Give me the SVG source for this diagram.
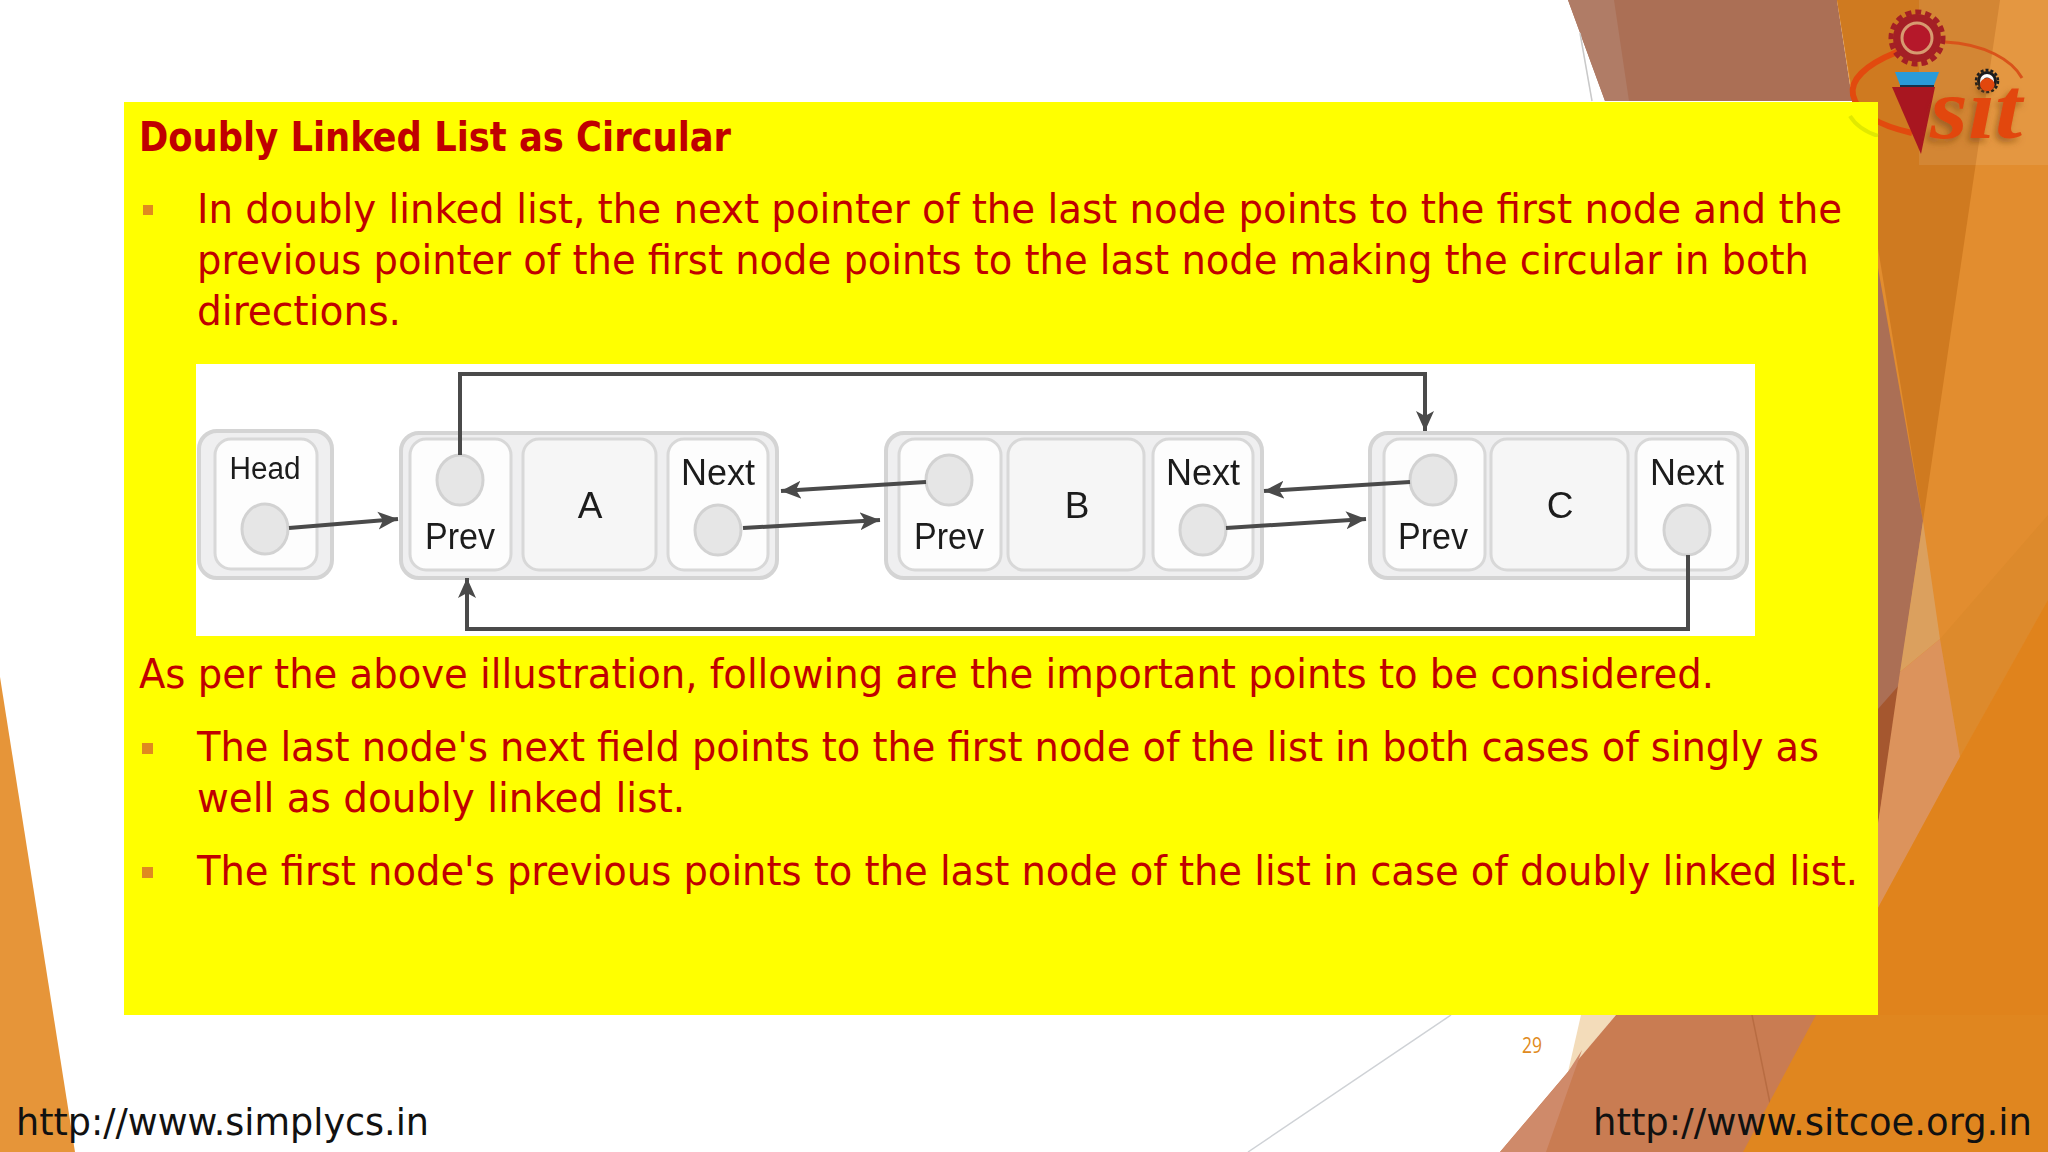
<svg xmlns="http://www.w3.org/2000/svg" width="2048" height="1152" viewBox="0 0 2048 1152">
<defs>
<marker id="ah" markerUnits="userSpaceOnUse" markerWidth="24" markerHeight="24" refX="20" refY="12" orient="auto"><path d="M0 3 L20 12 L0 21 L5 12 Z" fill="#4a4a4a"/></marker>
<filter id="soft" x="-5%" y="-5%" width="110%" height="110%"><feGaussianBlur stdDeviation="0.7"/></filter>
<filter id="sh" x="-20%" y="-20%" width="140%" height="140%"><feDropShadow dx="-3" dy="4" stdDeviation="3" flood-color="#7a4410" flood-opacity="0.55"/></filter>
</defs>
<style>
.b{font-family:"DejaVu Sans Condensed","DejaVu Sans",sans-serif;font-stretch:condensed;font-size:40px;fill:#c00000}
.u{font-family:"DejaVu Sans Condensed","DejaVu Sans",sans-serif;font-stretch:condensed;font-size:38px;fill:#111}
.o{fill:#efeff0;stroke:#d4d4d4;stroke-width:4}
.c{fill:#fdfdfd;stroke:#d8d8d8;stroke-width:3}
.d{fill:#f6f6f6;stroke:#d8d8d8;stroke-width:3}
.p{fill:#e6e6e6;stroke:#d2d2d2;stroke-width:3}
.t{font-family:"Liberation Sans",sans-serif;font-size:37px;fill:#1c1c1c;text-anchor:middle}
.k{fill:none;stroke:#4a4a4a;stroke-width:4}
.s{fill:#df8a20}
.n{filter:url(#soft)}
</style>
<rect width="2048" height="1152" fill="#fff"/>
<g id="bg">
<path d="M0 677L75 1152H0Z" fill="#e69539"/>
<path d="M1568 0H1837L1878 268V101H1605Z" fill="#ab6f55"/>
<path d="M1568 0H1614L1629 101H1605Z" fill="#b07c66"/>
<path d="M1580 33L1592 101" stroke="#c9c9c9" stroke-width="1.5" fill="none"/>
<path d="M1837 0H2048V1152H1878V268Z" fill="#e28d2f"/>
<path d="M1837 0H2000L1923 521Z" fill="#cf7a20"/>
<path d="M1878 268L1923 521L1878 824Z" fill="#ab6f55"/>
<path d="M1878 709L1900 684L1878 824Z" fill="#a5572f"/>
<path d="M1940 639L2048 515V600L1960 757Z" fill="#dd8a2c"/>
<path d="M1923 521L1940 639L1900 672Z" fill="#dba05e"/>
<path d="M1900 672L1940 639L1960 757L1878 908V824Z" fill="#dc935c"/>
<path d="M1878 908L1960 757L2048 600V1152H1878Z" fill="#e0831c"/>
<path d="M1581 1015H1616L1568 1072Z" fill="#f3dcba"/>
<path d="M1616 1015H1878V1152H1500Z" fill="#c97c52"/>
<path d="M1568 1072L1500 1152H1546L1582 1050Z" fill="#cf8a6a"/>
<path d="M1752 1015L1770 1103" stroke="#b86c42" stroke-width="1.5" fill="none"/>
<path d="M1816 1015H2048V1152H1743Z" fill="#e0861f"/>
<path d="M1451 1015L1248 1152" stroke="#cfd2d6" stroke-width="1.5" fill="none"/>
<rect x="1919" y="0" width="129" height="165" fill="#fff" opacity="0.09"/>
</g>
<g id="logo">
<path d="M1897 52C1865 65 1850 80 1853 95C1858 118 1890 128 1912 133" fill="none" stroke="#e24a0e" stroke-width="6"/>
<path d="M1945 42C1985 44 2012 60 2022 78" fill="none" stroke="#d9531a" stroke-width="3"/>
<circle cx="1917" cy="38" r="24" fill="#a41f25"/>
<circle cx="1917" cy="38" r="26" fill="none" stroke="#a41f25" stroke-width="5" stroke-dasharray="6 4"/>
<circle cx="1917" cy="38" r="15" fill="#b5182a" stroke="#d79a70" stroke-width="3"/>
<path d="M1895 72H1939L1934 85H1900Z" fill="#2a9bd8"/>
<path d="M1900 85H1934V87H1900Z" fill="#16324a"/>
<path d="M1892 87H1935L1921 154Z" fill="#a81620"/>
<circle cx="1987" cy="81" r="10" fill="#1d1d1d"/>
<circle cx="1987" cy="81" r="11" fill="none" stroke="#1d1d1d" stroke-width="2.5" stroke-dasharray="3 2"/>
<circle cx="1987" cy="81" r="7" fill="#fff"/>
<circle cx="1987" cy="81" r="3.5" fill="#1d1d1d"/>
<text x="1930" y="138" font-family="Liberation Serif,serif" font-style="italic" font-weight="bold" font-size="86" fill="#e2470f" textLength="92" lengthAdjust="spacingAndGlyphs" filter="url(#sh)">sit</text>
</g>
<rect id="panel" x="124" y="102" width="1754" height="913" fill="#ffff00"/>
<path d="M1850 116C1856 126 1866 132 1878 136" fill="none" stroke="#c4d400" stroke-width="4" opacity="0.5" filter="url(#soft)"/>
<text class="b" x="139" y="151" font-weight="700" textLength="592" lengthAdjust="spacingAndGlyphs">Doubly Linked List as Circular</text>
<rect class="s" x="143" y="205" width="10" height="10"/>
<text class="b" x="197" y="223" textLength="1645" lengthAdjust="spacingAndGlyphs">In doubly linked list, the next pointer of the last node points to the first node and the</text>
<text class="b" x="197" y="274" textLength="1612" lengthAdjust="spacingAndGlyphs">previous pointer of the first node points to the last node making the circular in both</text>
<text class="b" x="197" y="325" textLength="204" lengthAdjust="spacingAndGlyphs">directions.</text>
<rect id="figure" x="196" y="364" width="1559" height="272" fill="#fff"/>
<g id="head" class="n"><rect class="o" x="199" y="431" width="133" height="147" rx="18"/><rect class="c" x="215" y="439" width="102" height="130" rx="16"/><text class="t" x="265" y="479" style="font-size:31px" textLength="71" lengthAdjust="spacingAndGlyphs">Head</text><ellipse class="p" cx="265" cy="529" rx="23" ry="25"/></g>
<g id="node-a" class="n"><rect class="o" x="401" y="433" width="376" height="145" rx="18"/><rect class="c" x="410" y="439" width="101" height="131" rx="16"/><rect class="d" x="523" y="439" width="133" height="131" rx="16"/><rect class="c" x="668" y="439" width="100" height="131" rx="16"/><ellipse class="p" cx="460" cy="480" rx="23" ry="25"/><text class="t" x="460" y="549" textLength="70" lengthAdjust="spacingAndGlyphs">Prev</text><text class="t" x="590" y="518">A</text><text class="t" x="718" y="485" textLength="74" lengthAdjust="spacingAndGlyphs">Next</text><ellipse class="p" cx="718" cy="530" rx="23" ry="25"/></g>
<g id="node-b" class="n"><rect class="o" x="886" y="433" width="376" height="145" rx="18"/><rect class="c" x="899" y="439" width="102" height="131" rx="16"/><rect class="d" x="1008" y="439" width="136" height="131" rx="16"/><rect class="c" x="1153" y="439" width="100" height="131" rx="16"/><ellipse class="p" cx="949" cy="480" rx="23" ry="25"/><text class="t" x="949" y="549" textLength="70" lengthAdjust="spacingAndGlyphs">Prev</text><text class="t" x="1077" y="518">B</text><text class="t" x="1203" y="485" textLength="74" lengthAdjust="spacingAndGlyphs">Next</text><ellipse class="p" cx="1203" cy="530" rx="23" ry="25"/></g>
<g id="node-c" class="n"><rect class="o" x="1370" y="433" width="377" height="145" rx="18"/><rect class="c" x="1384" y="439" width="101" height="131" rx="16"/><rect class="d" x="1491" y="439" width="137" height="131" rx="16"/><rect class="c" x="1636" y="439" width="102" height="131" rx="16"/><ellipse class="p" cx="1433" cy="480" rx="23" ry="25"/><text class="t" x="1433" y="549" textLength="70" lengthAdjust="spacingAndGlyphs">Prev</text><text class="t" x="1560" y="518">C</text><text class="t" x="1687" y="485" textLength="74" lengthAdjust="spacingAndGlyphs">Next</text><ellipse class="p" cx="1687" cy="530" rx="23" ry="25"/></g>
<g id="connectors">
<path class="k" d="M289 528L398 519" marker-end="url(#ah)"/>
<path class="k" d="M743 528L880 520" marker-end="url(#ah)"/>
<path class="k" d="M926 482L781 491" marker-end="url(#ah)"/>
<path class="k" d="M1226 528L1366 519" marker-end="url(#ah)"/>
<path class="k" d="M1410 482L1264 491" marker-end="url(#ah)"/>
<path class="k" d="M460 455V374H1425V431" marker-end="url(#ah)"/>
<path class="k" d="M1688 555V629H467V578" marker-end="url(#ah)"/>
</g>
<text class="b" x="139" y="688" textLength="1575" lengthAdjust="spacingAndGlyphs">As per the above illustration, following are the important points to be considered.</text>
<rect class="s" x="142" y="743" width="11" height="11"/>
<text class="b" x="197" y="761" textLength="1622" lengthAdjust="spacingAndGlyphs">The last node's next field points to the first node of the list in both cases of singly as</text>
<text class="b" x="197" y="812" textLength="488" lengthAdjust="spacingAndGlyphs">well as doubly linked list.</text>
<rect class="s" x="142" y="867" width="11" height="11"/>
<text class="b" x="197" y="885" textLength="1661" lengthAdjust="spacingAndGlyphs">The first node's previous points to the last node of the list in case of doubly linked list.</text>
<text x="1522" y="1053" font-family="Open Sans,sans-serif" font-size="22" fill="#df8a20" textLength="20" lengthAdjust="spacingAndGlyphs">29</text>
<text class="u" x="16" y="1135" textLength="413" lengthAdjust="spacingAndGlyphs">http://www.simplycs.in</text>
<text class="u" x="1593" y="1135" textLength="439" lengthAdjust="spacingAndGlyphs">http://www.sitcoe.org.in</text>
</svg>
